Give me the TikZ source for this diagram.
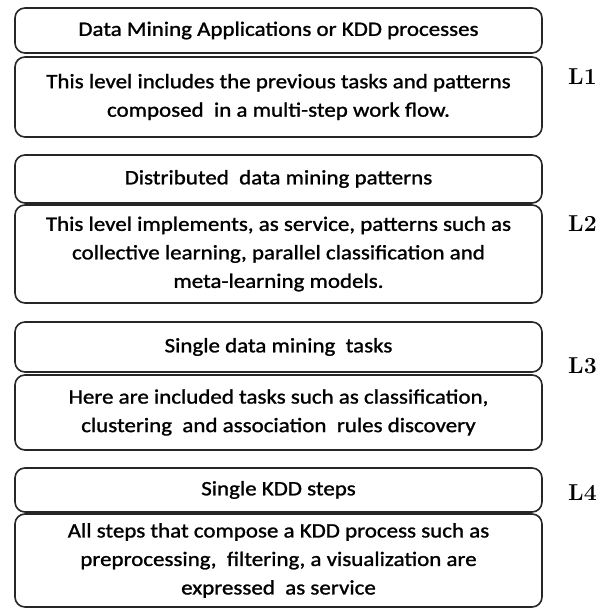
\documentclass[tikz,border=0pt]{standalone}
\usepackage{fontspec}
\setmainfont[FakeStretch=1.12,FakeBold=1.2]{Carlito}
\begin{document}
\begin{tikzpicture}[x=1pt,y=-1pt,
  box/.style={draw=black!85, line width=1.6pt, rounded corners=10pt, fill=white,
    minimum width=527pt, inner sep=0pt, align=center,
    font=\fontsize{20.5}{28.5}\selectfont},
  lvl/.style={font=\fontspec{Latin Modern Roman}\bfseries\fontsize{23}{26}\selectfont, anchor=west, inner sep=0pt}]
\useasboundingbox (0,0) rectangle (611,609);
\node[box, minimum height=45pt] (t1) at (278.5,30.5) {Data Mining Applications or KDD processes};
\node[box, minimum height=80pt] (b1) at (278.5,97) {This level includes the previous tasks and patterns\\composed\ \ in a multi-step work flow.};
\node[box, minimum height=48pt] (t2) at (278.5,179) {Distributed\ \ data mining patterns};
\node[box, minimum height=98pt] (b2) at (278.5,254) {This level implements, as service, patterns such as\\collective learning, parallel classification and\\meta-learning models.};
\node[box, minimum height=50pt] (t3) at (278.5,347) {Single data mining\ \ tasks};
\node[box, minimum height=75pt] (b3) at (278.5,412.5) {Here are included tasks such as classification,\\clustering\ \ and association\ \ rules discovery};
\node[box, minimum height=44pt] (t4) at (278.5,490) {Single KDD steps};
\node[box, minimum height=93pt] (b4) at (278.5,560.5) {All steps that compose a KDD process such as\\preprocessing,\ \ filtering, a visualization are\\expressed\ \ as service};
\node[lvl] (l1) at (568,77) {L1};
\node[lvl] (l2) at (568,224) {L2};
\node[lvl] (l3) at (568,366) {L3};
\node[lvl] (l4) at (568,493) {L4};
\end{tikzpicture}
\end{document}
